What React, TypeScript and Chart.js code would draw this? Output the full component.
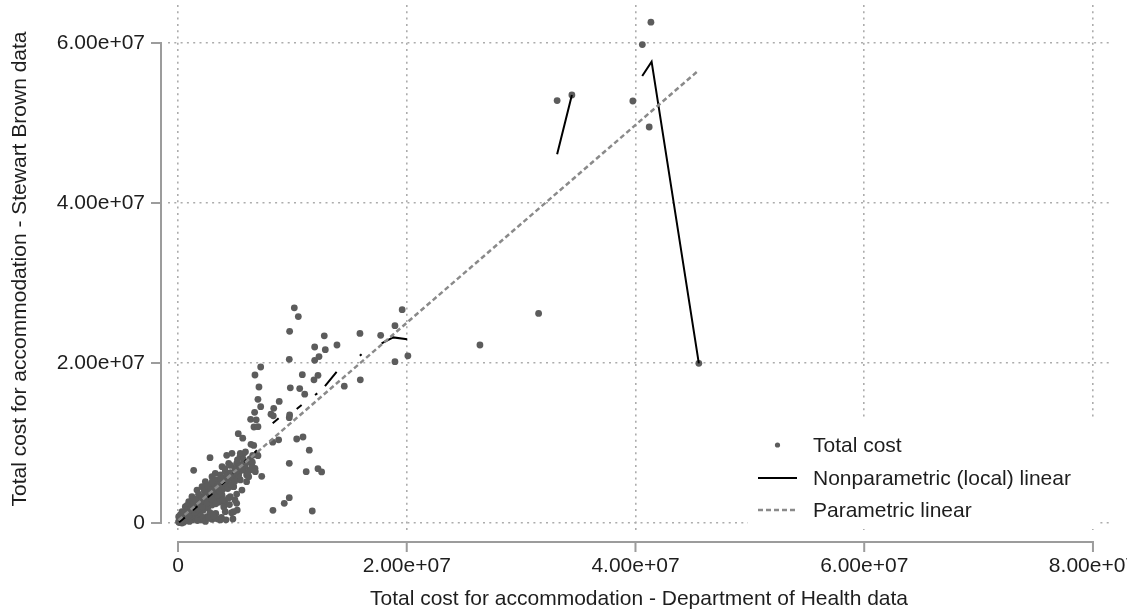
import React, { useEffect, useRef } from 'react';
import { Chart, registerables } from 'chart.js';

Chart.register(...registerables);

// Values are in millions (scaled by M when building the datasets)
const M = 1e6;

// Total cost for accommodation: Department of Health (x) vs Stewart Brown (y)
const costDH: number[] = [
  41.35, 40.6, 33.15, 34.44, 39.77, 41.2, 31.53, 45.54, 26.4,
  10.17, 10.52, 9.76, 12.79, 15.91, 13.9, 11.95, 12.88, 17.72, 18.97, 19.6, 20.1, 18.97, 9.73, 11.95, 12.33,
  7.23, 6.73, 10.87, 12.24, 11.89, 15.94, 14.54, 7.08, 9.82, 10.64, 11.08, 6.99, 8.85, 7.23, 8.37, 6.7,
  8.13, 8.33, 9.76, 9.73, 6.35, 6.84, 6.64, 6.99, 5.27, 5.66, 10.38, 10.93, 8.8, 8.28, 6.38, 6.62, 11.48,
  9.73, 11.21, 12.24, 12.56, 7.32, 9.73, 9.29, 8.3, 11.74,
  5.71, 5.42, 6.53, 6.88, 5.13, 5.86, 6.29, 6.73, 6.0, 4.98, 6.0, 4.83, 5.13, 4.98, 5.13, 5.18, 4.69,
  2.8, 1.37, 4.26, 6.99, 4.72, 5.45, 5.74, 4.43, 3.85, 4.13, 6.47, 6.76, 6.18, 5.31, 5.45, 4.72, 3.26,
  2.97, 2.39, 3.56, 4.13, 4.87, 5.59, 2.1, 1.66, 2.68, 3.26, 3.85, 4.57, 1.22, 1.95, 2.68, 0.94, 1.51,
  2.25, 2.97, 4.13, 4.87, 4.13, 0.64, 0.35, 1.08, 1.81, 2.53, 3.26, 0.06, 0.64, 1.22, 0.05, 0.35, 2.1,
  2.97, 3.7, 2.39, 0.1, 0.2, 6.09,
  0.3, 0.5, 0.8, 1.0, 1.3, 1.5, 1.7, 2.0, 2.2, 2.5, 2.7, 3.0, 3.2, 3.5, 3.8, 4.0, 4.3, 4.6, 5.0, 5.5,
  1.2, 1.9, 2.4, 2.8, 3.1, 3.4, 0.7, 0.4, 0.2, 0.9, 1.4, 1.6, 2.2, 2.6, 3.6, 4.4, 4.0, 3.3, 2.0, 0.5,
  1.0, 1.6, 2.4, 3.5, 4.2, 4.8, 1.8, 2.3, 2.9, 3.3, 3.7, 4.1, 4.6, 5.2, 5.9, 1.1, 0.8, 1.4, 2.6, 3.0,
  3.9, 4.4, 4.9, 5.3, 3.3, 3.9, 4.5, 2.8, 1.2, 0.6,
  0.15, 0.25, 0.45, 0.55, 0.75, 0.85, 1.05, 1.15, 1.35, 1.45, 1.55, 1.75, 1.85, 2.05, 2.15, 2.35, 2.45,
  2.55, 2.75, 2.85, 2.95, 3.15, 3.25, 3.45, 3.55, 3.65, 3.75, 3.95, 4.05, 4.25, 4.35, 4.55, 4.65, 4.75,
  4.95, 5.05, 5.25, 5.45, 5.65, 5.85, 6.1, 6.3, 6.5, 0.3, 0.9, 1.7, 2.7, 3.1, 3.8,
];
const costSB: number[] = [
  62.6, 59.8, 52.8, 53.5, 52.75, 49.5, 26.2, 19.96, 22.25,
  26.9, 25.8, 23.96, 23.4, 23.7, 22.25, 22.0, 21.66, 23.46, 24.66, 26.66, 20.9, 20.16, 20.46, 20.34, 20.8,
  19.5, 18.5, 18.54, 18.46, 17.9, 17.9, 17.1, 17.0, 16.9, 16.8, 16.1, 15.46, 15.2, 14.54, 14.34, 13.84,
  13.6, 13.4, 13.5, 13.16, 12.96, 12.9, 12.0, 12.04, 11.16, 10.6, 10.5, 10.75, 10.4, 10.1, 9.84, 9.7, 9.1,
  7.46, 6.41, 6.79, 6.38, 5.84, 3.16, 2.46, 1.59, 1.5,
  8.62, 8.29, 8.46, 8.59, 7.46, 7.04, 6.62, 6.84, 6.0, 5.79, 5.16, 4.54, 3.62, 2.88, 2.46, 1.62, 1.29,
  8.16, 6.59, 8.46, 8.41, 8.71, 8.71, 7.88, 7.46, 7.04, 6.41, 7.04, 6.41, 5.79, 6.21, 5.38, 5.59, 6.21,
  5.79, 5.16, 4.96, 4.75, 4.54, 4.12, 4.54, 4.12, 4.12, 3.71, 3.5, 3.29, 3.29, 3.29, 3.09, 2.66, 2.46,
  2.25, 2.25, 2.46, 1.41, 1.41, 2.04, 1.41, 1.41, 1.41, 0.79, 0.59, 0.79, 0.59, 0.38, 0.16, 0.0, 0.38,
  0.46, 0.38, 0.59, 0.05, 0.1, 6.29,
  0.5, 0.9, 1.0, 1.8, 1.5, 2.0, 2.8, 2.6, 3.0, 3.4, 3.8, 4.2, 4.6, 4.4, 5.2, 5.6, 5.9, 6.3, 6.8, 7.3,
  2.2, 1.9, 2.2, 2.9, 3.3, 3.0, 1.5, 1.2, 1.0, 0.4, 0.8, 1.1, 1.6, 1.9, 2.6, 3.1, 2.0, 1.2, 0.9, 0.1,
  0.2, 0.5, 0.2, 0.5, 0.4, 0.5, 3.6, 4.0, 4.9, 5.4, 6.0, 6.8, 7.2, 7.9, 8.9, 2.6, 2.2, 3.0, 4.6, 5.2,
  4.2, 4.9, 5.4, 5.9, 2.4, 2.9, 2.3, 1.3, 0.9, 0.3,
  0.4, 0.7, 0.5, 1.3, 0.8, 1.7, 1.1, 1.9, 2.4, 1.3, 2.9, 1.7, 2.3, 3.1, 2.0, 2.7, 3.6,
  2.5, 3.3, 4.1, 3.0, 3.9, 4.3, 3.5, 4.8, 4.0, 5.5, 4.6, 5.0, 5.4, 4.3, 5.7, 4.8, 6.1,
  5.2, 6.4, 6.6, 7.0, 6.6, 7.5, 7.6, 8.0, 7.6, 0.2, 0.9, 0.3, 0.6, 0.9, 0.7,
];

// Nonparametric (local) linear fit, null = break in the line
const npX: number[] = [
  0.1, 0.6, 0.9,
  1.3, 1.7, 2.1,
  2.6, 3.0, 3.4,
  3.8, 4.1, 4.4,
  4.8, 5.1, 5.4,
  5.8, 6.0, 6.3,
  6.7, 6.9, 7.6,
  8.28, 8.8, 9.6,
  10.38, 10.81, 11.4,
  11.98, 12.18, 12.5,
  12.85, 13.87, 14.9,
  15.9, 16.05, 17.0,
  17.8, 18.82, 20.04, 26.0,
  33.15, 34.44, 37.0,
  40.59, 41.41, 45.54,
];
const npY: (number | null)[] = [
  0.1, 0.7, null,
  1.6, 2.1, null,
  3.2, 3.7, null,
  4.8, 5.2, null,
  6.2, 6.6, null,
  7.6, 7.9, null,
  8.8, 9.1, null,
  12.46, 13.1, null,
  14.25, 14.75, null,
  16.0, 16.2, null,
  17.1, 18.9, null,
  20.9, 21.1, null,
  22.46, 23.2, 22.96, null,
  46.1, 53.5, null,
  55.88, 57.66, 19.96,
];

// Parametric linear fit (end points)
const parX: number[] = [0.05, 45.54];
const parY: number[] = [0.36, 56.6];

const xTicks: number[] = [0, 20, 40, 60, 80];
const yTicks: number[] = [0, 20, 40, 60];

const seriesLabels: string[] = ['Total cost', 'Nonparametric (local) linear', 'Parametric linear'];
const xTitle = 'Total cost for accommodation - Department of Health data';
const yTitle = 'Total cost for accommodation - Stewart Brown data';

const FONT = "'Liberation Sans', Arial, sans-serif";
const TEXT = '#1e1e1e';
const POINT = '#5c5c5c';
const PARAM = '#8a8a8a';
const AXIS = '#9c9c9c';
const GRID = '#acacac';

const fmt = (v: number) =>
  v === 0 ? '0' : v.toExponential(2).replace(/e\+(\d)$/, 'e+0$1');

const stataAxes = {
  id: 'stataAxes',
  afterDraw(chart: any) {
    const { ctx, chartArea, scales } = chart;
    const xs = scales.x;
    const ys = scales.y;
    ctx.save();
    ctx.strokeStyle = AXIS;
    ctx.lineWidth = 2;
    ctx.lineCap = 'butt';
    // y axis
    const ax = chartArea.left - 7;
    const yTop = ys.getPixelForValue(yTicks[yTicks.length - 1] * M);
    const yBot = ys.getPixelForValue(yTicks[0] * M);
    ctx.beginPath();
    ctx.moveTo(ax, yTop - 1);
    ctx.lineTo(ax, yBot + 1);
    yTicks.forEach((t) => {
      const py = ys.getPixelForValue(t * M);
      ctx.moveTo(ax + 1, py);
      ctx.lineTo(ax - 10, py);
    });
    ctx.stroke();
    // x axis
    const ay = chartArea.bottom + 9;
    const xL = xs.getPixelForValue(xTicks[0] * M);
    const xR = xs.getPixelForValue(xTicks[xTicks.length - 1] * M);
    ctx.beginPath();
    ctx.moveTo(xL - 1, ay);
    ctx.lineTo(xR + 1, ay);
    xTicks.forEach((t) => {
      const px = xs.getPixelForValue(t * M);
      ctx.moveTo(px, ay - 1);
      ctx.lineTo(px, ay + 10);
    });
    ctx.stroke();
    ctx.restore();
  },
};

const boxLegend = {
  id: 'boxLegend',
  afterDraw(chart: any) {
    const { ctx, chartArea } = chart;
    const ds = chart.data.datasets;
    const right = chartArea.right;
    const bottom = chartArea.bottom;
    const bx = right - 362;
    ctx.save();
    ctx.fillStyle = '#ffffff';
    ctx.fillRect(bx, bottom - 114, 352, 110);
    const symL = bx + 10;
    const symR = bx + 49;
    const textX = bx + 65;
    const rows = [bottom - 88, bottom - 55, bottom - 23];
    ctx.font = `21px ${FONT}`;
    ctx.textBaseline = 'middle';
    ctx.textAlign = 'left';
    seriesLabels.forEach((lab, i) => {
      const d = ds.find((q: any) => q.label === lab);
      const yy = rows[i];
      if (i === 0) {
        ctx.fillStyle = d ? d.backgroundColor : POINT;
        ctx.beginPath();
        ctx.arc((symL + symR) / 2, yy, 2.6, 0, Math.PI * 2);
        ctx.fill();
      } else {
        ctx.strokeStyle = d ? d.borderColor : '#000';
        ctx.lineWidth = d ? d.borderWidth : 2;
        ctx.setLineDash(d && d.borderDash ? d.borderDash : []);
        ctx.beginPath();
        ctx.moveTo(symL, yy);
        ctx.lineTo(symR, yy);
        ctx.stroke();
        ctx.setLineDash([]);
      }
      ctx.fillStyle = TEXT;
      ctx.fillText(lab, textX, yy + 1);
    });
    ctx.restore();
  },
};

export default function App() {
  const ref = useRef<HTMLCanvasElement | null>(null);

  useEffect(() => {
    document.body.style.margin = '0';
    const canvas = ref.current;
    if (!canvas) return;
    Chart.defaults.font.family = FONT;

    const points = costDH.map((x, i) => ({ x: x * M, y: costSB[i] * M }));
    const np = npX.map((x, i) => ({ x: x * M, y: npY[i] === null ? null : (npY[i] as number) * M }));
    const par = parX.map((x, i) => ({ x: x * M, y: parY[i] * M }));

    const chart = new Chart(canvas, {
      type: 'scatter',
      data: {
        datasets: [
          {
            label: seriesLabels[2],
            data: par,
            showLine: true,
            borderColor: PARAM,
            backgroundColor: PARAM,
            borderWidth: 2.5,
            borderDash: [5, 3],
            pointRadius: 0,
            order: 1,
          } as any,
          {
            label: seriesLabels[1],
            data: np,
            showLine: true,
            spanGaps: false,
            borderColor: '#000000',
            backgroundColor: '#000000',
            borderWidth: 2,
            pointRadius: 0,
            order: 2,
          } as any,
          {
            label: seriesLabels[0],
            data: points,
            showLine: false,
            backgroundColor: POINT,
            borderWidth: 0,
            pointRadius: 3.4,
            order: 3,
          } as any,
        ],
      },
      options: {
        animation: false,
        responsive: false,
        devicePixelRatio: 1,
        layout: { padding: { top: 5, right: 17, left: 0, bottom: 0 } },
        plugins: {
          legend: { display: false },
          tooltip: { enabled: false },
        },
        scales: {
          x: {
            type: 'linear',
            min: -0.874 * M,
            max: 81.49 * M,
            afterBuildTicks: (s: any) => {
              s.ticks = xTicks.map((v) => ({ value: v * M }));
            },
            afterFit: (s: any) => {
              s.height = 83;
              s.paddingLeft = 0;
              s.paddingRight = 0;
            },
            grid: { color: GRID, lineWidth: 1.6, drawTicks: false },
            border: { display: false, dash: [2, 4.3] },
            ticks: {
              padding: 21,
              color: TEXT,
              font: { size: 21, family: FONT },
              maxRotation: 0,
              autoSkip: false,
              callback: (v: any) => fmt(Number(v)),
            },
            title: {
              display: true,
              text: xTitle,
              color: TEXT,
              font: { size: 21, family: FONT },
              padding: { top: 0, bottom: 4 },
            },
          },
          y: {
            type: 'linear',
            min: -1.25 * M,
            max: 64.75 * M,
            afterBuildTicks: (s: any) => {
              s.ticks = yTicks.map((v) => ({ value: v * M }));
            },
            afterFit: (s: any) => {
              s.width = 168;
              s.paddingTop = 0;
              s.paddingBottom = 0;
            },
            grid: { color: GRID, lineWidth: 1.6, drawTicks: false },
            border: { display: false, dash: [2, 4.3] },
            ticks: {
              padding: 23,
              color: TEXT,
              font: { size: 21, family: FONT },
              autoSkip: false,
              callback: (v: any) => fmt(Number(v)),
            },
            title: {
              display: true,
              text: yTitle,
              color: TEXT,
              font: { size: 21, family: FONT },
              padding: { top: 8, bottom: 0 },
            },
          },
        },
      } as any,
      plugins: [stataAxes, boxLegend],
    });

    return () => {
      chart.destroy();
    };
  }, []);

  return (
    <div style={{ width: 1127, height: 616 }}>
      <canvas ref={ref} width={1127} height={616} style={{ display: 'block', width: 1127, height: 616 }} />
    </div>
  );
}
